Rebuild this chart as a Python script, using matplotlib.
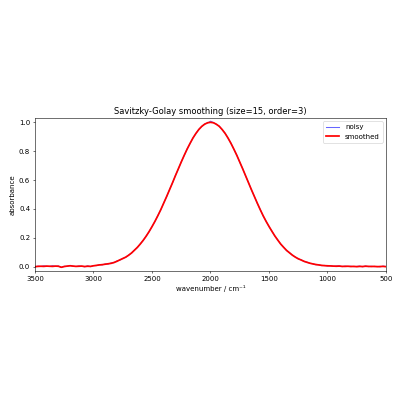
import matplotlib
matplotlib.use("Agg")
import matplotlib.pyplot as plt

# wavenumbers (cm^-1), 25 cm^-1 steps from 3500 down to 500
wavenumber = [3500 - 25 * i for i in range(121)]

smoothed = [
    0.000, 0.002, 0.003, 0.002, 0.004, 0.003, 0.002, 0.004, 0.003, -0.004,
    0.001, 0.004, 0.006, 0.004, 0.002, 0.003, 0.004, 0.001, 0.003, 0.002,
    0.006, 0.009, 0.012, 0.014, 0.017, 0.020, 0.023, 0.029, 0.037, 0.047,
    0.056, 0.066, 0.079, 0.095, 0.114, 0.134, 0.157, 0.183, 0.211, 0.243,
    0.277, 0.314, 0.353, 0.395, 0.440, 0.486, 0.533, 0.581, 0.630, 0.678,
    0.725, 0.771, 0.814, 0.854, 0.891, 0.923, 0.950, 0.972, 0.987, 0.997,
    1.000, 0.997, 0.987, 0.972, 0.950, 0.923, 0.891, 0.854, 0.814, 0.771,
    0.725, 0.678, 0.630, 0.581, 0.533, 0.486, 0.440, 0.395, 0.353, 0.314,
    0.279, 0.245, 0.213, 0.184, 0.157, 0.134, 0.113, 0.096, 0.080, 0.066,
    0.055, 0.046, 0.037, 0.030, 0.024, 0.019, 0.015, 0.012, 0.009, 0.007,
    0.006, 0.005, 0.004, 0.003, 0.004, 0.002, 0.002, 0.003, 0.001, 0.002,
    0.000, 0.002, 0.001, 0.003, 0.002, 0.001, 0.002, 0.000, 0.001, 0.002,
    0.000,
]

noisy = [
    -0.002, 0.004, 0.001, 0.006, 0.002, 0.001, 0.007, 0.002, 0.005, -0.006,
    0.003, 0.002, 0.009, 0.003, 0.001, 0.005, 0.002, -0.001, 0.006, 0.000,
    0.008, 0.007, 0.014, 0.012, 0.019, 0.018, 0.026, 0.027, 0.040, 0.045,
    0.058, 0.064, 0.081, 0.093, 0.116, 0.132, 0.159, 0.181, 0.213, 0.241,
    0.279, 0.312, 0.355, 0.393, 0.442, 0.484, 0.535, 0.579, 0.632, 0.676,
    0.727, 0.769, 0.816, 0.852, 0.893, 0.921, 0.952, 0.970, 0.989, 0.995,
    1.008, 0.999, 0.985, 0.974, 0.948, 0.925, 0.889, 0.856, 0.812, 0.773,
    0.723, 0.680, 0.628, 0.583, 0.531, 0.488, 0.438, 0.397, 0.351, 0.316,
    0.277, 0.247, 0.211, 0.186, 0.155, 0.136, 0.111, 0.098, 0.078, 0.068,
    0.053, 0.048, 0.035, 0.032, 0.022, 0.021, 0.013, 0.014, 0.007, 0.009,
    0.004, 0.007, 0.002, 0.005, 0.006, 0.000, 0.004, 0.001, 0.003, 0.000,
    0.002, 0.004, -0.001, 0.005, 0.000, 0.003, 0.000, 0.002, -0.001, 0.004,
    0.001,
]

fig = plt.figure(figsize=(8, 8), dpi=50)
ax = fig.add_axes([0.0875, 0.3225, 0.8775, 0.3825])
ax.plot(wavenumber, noisy, color="blue", alpha=0.6, lw=1.5, label="noisy")
ax.plot(wavenumber, smoothed, color="red", lw=2.5, label="smoothed")
ax.set_xlim(3500, 500)
ax.set_ylim(-0.03, 1.03)
ax.set_xlabel("wavenumber / cm⁻¹")
ax.set_ylabel("absorbance")
ax.set_title("Savitzky-Golay smoothing (size=15, order=3)")
ax.legend(loc="upper right")
fig.savefig("out.png", dpi=50)
